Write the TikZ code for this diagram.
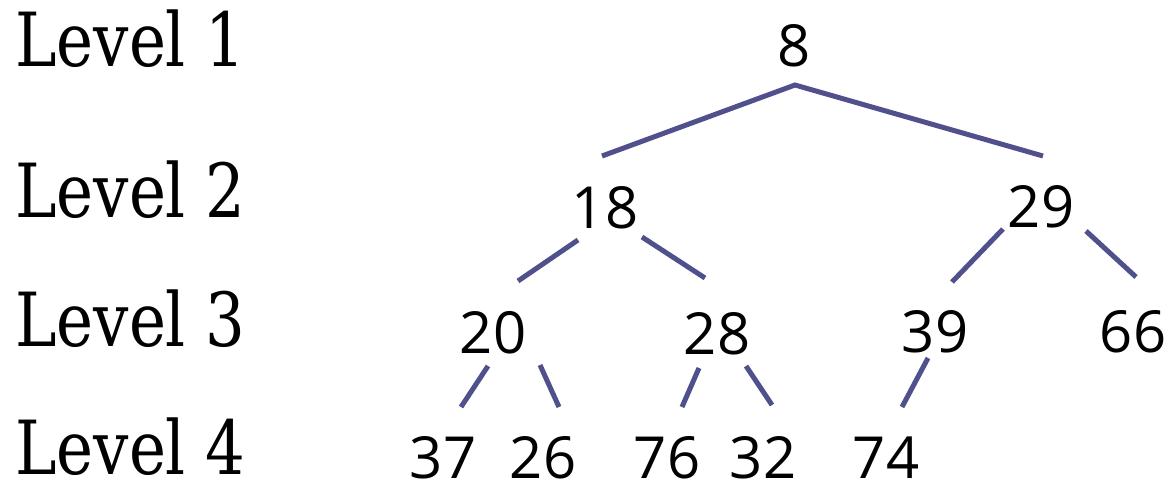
\documentclass[tikz,border=0pt]{standalone}
\usepackage{fontspec}
\newfontfamily\numfont{Open Sans}
\newfontfamily\lvfont{DejaVu Serif Condensed}
\definecolor{edgecol}{RGB}{80,80,140}
\begin{document}
\begin{tikzpicture}[x=0.75pt,y=-0.75pt,
  num/.style={anchor=base,inner sep=0pt,font=\numfont\fontsize{43.5}{43.5}\selectfont},
  lvl/.style={anchor=base west,inner sep=0pt,font=\lvfont\fontsize{56}{56}\selectfont},
  edge/.style={draw=edgecol,line width=3.75pt,line cap=butt}]
\useasboundingbox (0,0) rectangle (1168,483);
% level labels
\node[lvl] (L1) at (15,66) {\scalebox{0.93}[1]{Level 1}};
\node[lvl] (L2) at (15,217) {\scalebox{0.93}[1]{Level 2}};
\node[lvl] (L3) at (15,346) {\scalebox{0.93}[1]{Level 3}};
\node[lvl] (L4) at (15,474) {\scalebox{0.93}[1]{Level 4}};
% tree nodes
\node[num] (n8) at (794,66) {8};
\node[num] (n18) at (605,228) {18};
\node[num] (n29) at (1041,227) {29};
\node[num] (n20) at (493,353) {20};
\node[num] (n28) at (717,354) {28};
\node[num] (n39) at (935,352) {39};
\node[num] (n66) at (1133,352) {66};
\node[num] (n37) at (443,478) {37};
\node[num] (n26) at (543,478) {26};
\node[num] (n76) at (667,478) {76};
\node[num] (n32) at (763,478) {32};
\node[num] (n74) at (886,478) {74};
% connector end points
\coordinate (a8) at (795,85);
\coordinate (b18) at (602,156);
\coordinate (b29) at (1043,156);
\coordinate (a18l) at (578,240); \coordinate (b20) at (518,281);
\coordinate (a18r) at (642,237); \coordinate (b28) at (705,278);
\coordinate (a29l) at (1003,229); \coordinate (b39) at (952,282);
\coordinate (a29r) at (1086,231); \coordinate (b66) at (1136,277);
\coordinate (a20l) at (488,366); \coordinate (b37) at (461,407);
\coordinate (a20r) at (540,365); \coordinate (b26) at (559,407);
\coordinate (a28l) at (699,368); \coordinate (b76) at (682,407);
\coordinate (a28r) at (746,366); \coordinate (b32) at (772,405);
\coordinate (a39l) at (928,358); \coordinate (b74) at (902,407);
% connectors
\draw[edge,line join=miter] (b18) -- (a8) -- (b29);
\draw[edge] (a18l) -- (b20);
\draw[edge] (a18r) -- (b28);
\draw[edge] (a29l) -- (b39);
\draw[edge] (a29r) -- (b66);
\draw[edge] (a20l) -- (b37);
\draw[edge] (a20r) -- (b26);
\draw[edge] (a28l) -- (b76);
\draw[edge] (a28r) -- (b32);
\draw[edge] (a39l) -- (b74);
\end{tikzpicture}
\end{document}
